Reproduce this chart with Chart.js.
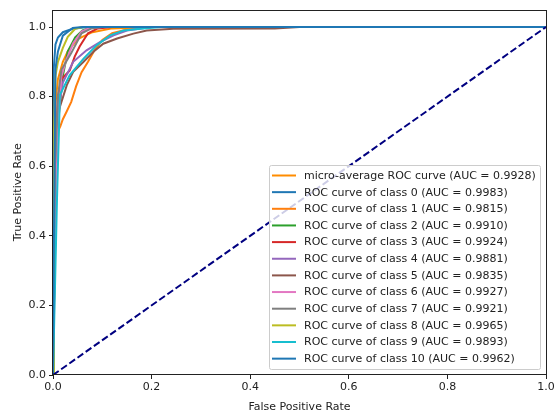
<!DOCTYPE html>
<html>
<head>
<meta charset="utf-8">
<script src="https://cdn.jsdelivr.net/npm/chart.js@4"></script>
<style>
  html, body { margin: 0; padding: 0; background: #fff; }
  #wrap { width: 558px; height: 411px; }
</style>
</head>
<body>
<div id="wrap"><canvas id="rocChart" width="558" height="411"></canvas></div>
<script>
// ROC curves
const fprMicro = [0, 0.002, 0.005, 0.01, 0.02, 0.03, 0.05, 0.08, 0.12, 0.2, 1];
const tprMicro = [0, 0.6, 0.78, 0.85, 0.9, 0.93, 0.965, 0.985, 0.996, 1, 1];

const fpr0 = [0, 0.001, 0.002, 0.005, 0.01, 0.02, 0.04, 0.07, 1];
const tpr0 = [0, 0.5, 0.88, 0.95, 0.97, 0.985, 0.995, 1, 1];

const fpr1 = [0, 0.005, 0.01, 0.015, 0.02, 0.027, 0.037, 0.047, 0.058, 0.071, 0.085, 0.1, 0.12, 0.15, 0.2, 1];
const tpr1 = [0, 0.5, 0.7, 0.715, 0.735, 0.755, 0.785, 0.83, 0.87, 0.9, 0.935, 0.963, 0.982, 0.993, 1, 1];

const fpr2 = [0, 0.002, 0.004, 0.008, 0.012, 0.02, 0.03, 0.045, 0.06, 0.08, 1];
const tpr2 = [0, 0.22, 0.35, 0.6, 0.75, 0.86, 0.93, 0.97, 0.99, 1, 1];

const fpr3 = [0, 0.004, 0.01, 0.017, 0.034, 0.044, 0.054, 0.071, 0.091, 0.12, 1];
const tpr3 = [0, 0.6, 0.8, 0.85, 0.875, 0.915, 0.944, 0.982, 0.996, 1, 1];

const fpr4 = [0, 0.005, 0.01, 0.02, 0.041, 0.068, 0.096, 0.123, 0.15, 0.2, 1];
const tpr4 = [0, 0.6, 0.75, 0.84, 0.9, 0.933, 0.957, 0.976, 0.99, 1, 1];

const fpr5 = [0, 0.005, 0.011, 0.028, 0.041, 0.062, 0.082, 0.102, 0.13, 0.163, 0.19, 0.244, 0.45, 0.5, 1];
const tpr5 = [0, 0.5, 0.757, 0.833, 0.871, 0.9, 0.929, 0.952, 0.967, 0.981, 0.99, 0.995, 0.996, 1, 1];

const fpr6 = [0, 0.006, 0.01, 0.017, 0.027, 0.041, 0.058, 0.075, 0.1, 1];
const tpr6 = [0, 0.5, 0.7, 0.858, 0.906, 0.953, 0.987, 0.998, 1, 1];

const fpr7 = [0, 0.004, 0.01, 0.017, 0.037, 0.058, 0.078, 0.1, 1];
const tpr7 = [0, 0.6, 0.8, 0.877, 0.925, 0.982, 0.996, 1, 1];

const fpr8 = [0, 0.002, 0.005, 0.01, 0.02, 0.03, 0.045, 0.06, 1];
const tpr8 = [0, 0.7, 0.86, 0.9, 0.94, 0.972, 0.995, 1, 1];

const fpr9 = [0, 0.008, 0.012, 0.014, 0.034, 0.062, 0.089, 0.116, 0.143, 0.177, 0.22, 1];
const tpr9 = [0, 0.5, 0.7, 0.805, 0.862, 0.909, 0.948, 0.976, 0.99, 0.995, 1, 1];

const fpr10 = [0, 0.003, 0.005, 0.01, 0.02, 0.04, 0.06, 1];
const tpr10 = [0, 0.6, 0.88, 0.93, 0.975, 0.997, 1, 1];

const chanceFpr = [0, 1];
const chanceTpr = [0, 1];

const curveNames = ["micro-average ROC curve", "ROC curve of class 0", "ROC curve of class 1",
  "ROC curve of class 2", "ROC curve of class 3", "ROC curve of class 4", "ROC curve of class 5",
  "ROC curve of class 6", "ROC curve of class 7", "ROC curve of class 8", "ROC curve of class 9",
  "ROC curve of class 10"];
const aucValues = [0.9928, 0.9983, 0.9815, 0.9910, 0.9924, 0.9881, 0.9835, 0.9927, 0.9921, 0.9965, 0.9893, 0.9962];
const xTicks = [0, 0.2, 0.4, 0.6, 0.8, 1.0];
const yTicks = [0, 0.2, 0.4, 0.6, 0.8, 1.0];

const curveFpr = [fprMicro, fpr0, fpr1, fpr2, fpr3, fpr4, fpr5, fpr6, fpr7, fpr8, fpr9, fpr10];
const curveTpr = [tprMicro, tpr0, tpr1, tpr2, tpr3, tpr4, tpr5, tpr6, tpr7, tpr8, tpr9, tpr10];
const colors = ["#ff8c00", "#1f77b4", "#ff7f0e", "#2ca02c", "#d62728", "#9467bd", "#8c564b",
  "#e377c2", "#7f7f7f", "#bcbd22", "#17becf", "#1f77b4"];

const FONT = "'DejaVu Sans', sans-serif";
const pts = (xs, ys) => xs.map((x, i) => ({ x: x, y: ys[i] }));

const datasets = curveNames.map((name, i) => ({
  label: name + " (AUC = " + aucValues[i].toFixed(4) + ")",
  data: pts(curveFpr[i], curveTpr[i]),
  borderColor: colors[i],
  borderWidth: 2,
  pointRadius: 0,
  tension: 0,
  order: 20 - i
}));
datasets.push({
  label: "chance",
  data: pts(chanceFpr, chanceTpr),
  borderColor: "#000080",
  borderWidth: 2,
  borderDash: [7, 3],
  pointRadius: 0,
  order: 0
});

// frame + legend box like matplotlib
const framePlugin = {
  id: "frame",
  afterDraw(chart) {
    const ctx = chart.ctx, a = chart.chartArea;
    ctx.save();
    ctx.strokeStyle = "#222";
    ctx.lineWidth = 1;
    ctx.strokeRect(Math.round(a.left) - 0.5, Math.round(a.top) + 0.5,
      Math.round(a.right - a.left) + 1, Math.round(a.bottom - a.top) - 1);

    // legend
    const n = curveNames.length;
    const bx = 269.5, by = 165.5, bw = 271, bh = 204, rowH = 16.65;
    ctx.fillStyle = "rgba(255,255,255,0.8)";
    ctx.strokeStyle = "#cccccc";
    ctx.beginPath();
    ctx.roundRect(bx, by, bw, bh, 2);
    ctx.fill();
    ctx.stroke();
    ctx.font = "11px " + FONT;
    ctx.textBaseline = "middle";
    ctx.textAlign = "left";
    for (let i = 0; i < n; i++) {
      const y = 175.5 + i * rowH;
      ctx.strokeStyle = colors[i];
      ctx.lineWidth = 2;
      ctx.beginPath();
      ctx.moveTo(272, y);
      ctx.lineTo(296, y);
      ctx.stroke();
      ctx.fillStyle = "#222";
      ctx.fillText(datasets[i].label, 304, y + 0.5);
    }
    ctx.restore();
  }
};

new Chart(document.getElementById("rocChart"), {
  type: "line",
  data: { datasets: datasets },
  plugins: [framePlugin],
  options: {
    responsive: false,
    animation: false,
    layout: { padding: { top: 8, right: 12, left: 0, bottom: 0 } },
    plugins: {
      legend: { display: false },
      tooltip: { enabled: false }
    },
    scales: {
      x: {
        type: "linear",
        min: 0,
        max: 1,
        afterFit: (s) => { s.height = 36; },
        afterBuildTicks: (s) => { s.ticks = xTicks.map(v => ({ value: v })); },
        grid: { drawOnChartArea: false, tickLength: 4, tickColor: "#222" },
        border: { display: false },
        ticks: {
          padding: 2,
          color: "#222",
          font: { family: FONT, size: 11 },
          maxRotation: 0,
          callback: (v) => v.toFixed(1)
        },
        title: {
          display: true,
          text: "False Positive Rate",
          color: "#222",
          font: { family: FONT, size: 11 },
          padding: { top: 0, bottom: -3 }
        }
      },
      y: {
        type: "linear",
        min: 0,
        max: 1.05,
        afterFit: (s) => { s.width = 53; },
        afterBuildTicks: (s) => { s.ticks = yTicks.map(v => ({ value: v })); },
        grid: { drawOnChartArea: false, tickLength: 4, tickColor: "#222" },
        border: { display: false },
        ticks: {
          padding: 3,
          color: "#222",
          font: { family: FONT, size: 11 },
          callback: (v) => v.toFixed(1)
        },
        title: {
          display: true,
          text: "True Positive Rate",
          color: "#222",
          font: { family: FONT, size: 11 },
          padding: { top: 11.5, bottom: 0 }
        }
      }
    }
  }
});
</script>
</body>
</html>
